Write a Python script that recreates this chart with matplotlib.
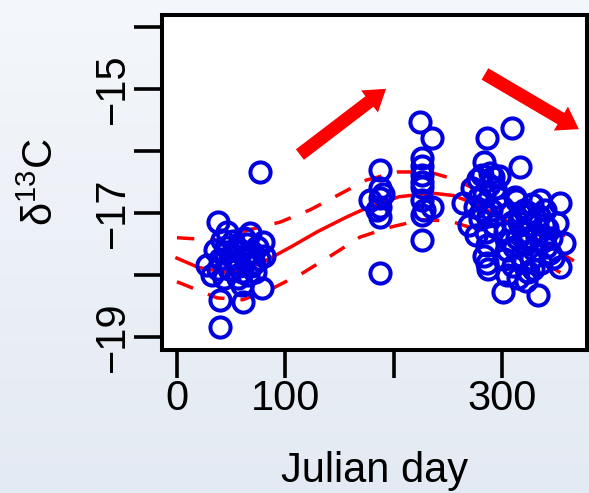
import numpy as np
import matplotlib
matplotlib.use("Agg")
import matplotlib.pyplot as plt

plt.rcParams['font.family'] = ['Liberation Sans', 'DejaVu Sans']
plt.rcParams['mathtext.default'] = 'regular'

# ---- data ----
days_winter = [37.9, 39.7, 39.7, 61, 78.5, 27.7, 32.3, 67.4, 79.4, 60, 41.5, 76.6,
               35, 40, 45, 48, 50, 43, 52, 55, 58, 60, 63, 65, 68, 70, 72, 74, 76, 80,
               38, 46, 56, 66, 53, 62, 44, 57, 71]
d13c_winter = [-17.15, -18.84, -18.40, -18.44, -18.21, -17.84, -18.0, -17.32, -17.47, -18.16, -17.44, -16.34,
               -17.6, -17.75, -17.55, -17.9, -17.7, -18.05, -17.45, -17.8, -17.6, -17.95, -17.7, -17.5,
               -17.85, -17.65, -17.95, -17.55, -17.75, -17.7, -17.9, -17.3, -18.05, -18.0, -17.6, -17.4,
               -17.65, -17.85, -17.8]

days_summer = [187, 187, 187, 178, 187, 187, 187, 185, 190,
               224, 235, 226, 226, 226, 226, 226, 235, 226, 226, 228, 226]
d13c_summer = [-16.31, -16.6, -16.76, -16.79, -16.9, -17.06, -17.97, -16.95, -16.7,
               -15.53, -15.79, -16.11, -16.24, -16.39, -16.58, -16.79, -16.9, -17.03, -17.44, -16.95, -16.5]

days_autumn = [309, 286, 283, 317, 282, 292, 264, 286, 286, 283, 287,
               272, 275, 278, 280, 283, 285, 288, 290, 293, 295, 297, 270, 276, 282, 289, 294, 287,
               354, 351, 357, 354, 301, 333, 347,
               300, 303, 305, 307, 310, 312, 314, 316, 318, 320, 322, 324, 326, 328, 330, 332, 334,
               336, 338, 340, 342, 344, 305, 315, 325, 335, 309, 319, 329, 339, 313, 345, 302, 322,
               311, 321, 331, 341, 317, 327, 307, 279]
d13c_autumn = [-15.63, -15.79, -16.18, -16.26, -16.39, -16.42, -16.84, -17.52, -17.81, -17.7, -17.9,
               -16.6, -16.9, -16.45, -17.1, -16.7, -17.3, -16.55, -16.95, -17.2, -16.75, -16.4, -17.2,
               -17.35, -16.95, -16.35, -16.6, -17.05,
               -16.84, -17.16, -17.48, -17.87, -18.27, -18.32, -17.73,
               -16.9, -17.3, -17.6, -17.0, -17.85, -16.75, -17.4, -17.15, -17.7, -16.95, -17.5, -17.95,
               -17.2, -16.85, -17.6, -17.35, -17.05, -17.8, -17.45, -16.95, -17.25, -17.65, -18.0, -18.05,
               -17.0, -16.8, -17.15, -17.3, -17.9, -17.2, -16.8, -17.4, -17.75, -18.1,
               -17.55, -17.4, -17.1, -17.55, -17.0, -17.75, -17.45, -16.75]

fit_day = [0, 20, 45, 65, 83, 105, 130, 155, 175, 205, 235, 255, 275, 300, 325, 345, 365]
fit_mid = [-17.73, -17.88, -17.96, -17.9, -17.76, -17.55, -17.3, -17.08, -16.92, -16.74, -16.68,
           -16.72, -16.85, -17.08, -17.35, -17.55, -17.76]

upper_day = [0, 37, 67, 95, 123, 149, 175, 204, 233, 258, 286, 314, 341, 365]
upper_val = [-17.40, -17.44, -17.27, -17.15, -16.95, -16.71, -16.47, -16.34, -16.34, -16.47,
             -16.71, -17.05, -17.30, -17.39]

lower_day = [0, 37, 61, 89, 116, 143, 169, 197, 226, 252, 277, 307, 332, 365]
lower_val = [-18.11, -18.37, -18.40, -18.21, -17.97, -17.68, -17.39, -17.23, -17.11, -17.13,
             -17.27, -17.48, -17.73, -18.08]

arrow_tails = [(113.5, -16.06), (284.3, -14.76)]
arrow_tips = [(193.0, -15.0), (371.0, -15.65)]

x_ticks = [0, 100, 200, 300]
x_ticklabels = ['0', '100', '', '300']
y_ticks = [-19, -18, -17, -16, -15, -14]
y_ticklabels = ['\u221219', '', '\u221217', '', '\u221215', '']

# ---- figure ----
W, H = 589, 493
fig = plt.figure(figsize=(W / 100, H / 100), dpi=100)

bg = fig.add_axes([0, 0, 1, 1], zorder=-10)
top = np.array([0xf4, 0xf7, 0xfb]) / 255
bot = np.array([0xe4, 0xea, 0xf3]) / 255
t = np.linspace(0, 1, 256)[:, None, None]
grad = (1 - t) * top + t * bot
grad = np.repeat(grad, 2, axis=1)
bg.imshow(grad, aspect='auto', extent=[0, 1, 0, 1])
bg.set_axis_off()

ax = fig.add_axes([162 / W, 1 - 350 / H, (587 - 162) / W, (350 - 15) / H])
ax.set_facecolor('white')

mk = dict(ls='none', marker='o', ms=14.5, mfc='none', mec='#0000e0', mew=2.9)
ax.plot(days_winter, d13c_winter, **mk, zorder=3)
ax.plot(days_summer, d13c_summer, **mk, zorder=3)
ax.plot(days_autumn, d13c_autumn, **mk, zorder=3)

lw = 2.5
ax.plot(fit_day, fit_mid, color='red', lw=lw, zorder=2)
ax.plot(upper_day, upper_val, color='red', lw=lw, ls=(0, (5.0, 4.6)), zorder=2)
ax.plot(lower_day, lower_val, color='red', lw=lw, ls=(0, (5.0, 4.6)), zorder=2)

for (tx, ty), (hx, hy) in zip(arrow_tails, arrow_tips):
    ax.annotate('', xy=(hx, hy), xytext=(tx, ty),
                arrowprops=dict(arrowstyle='simple,head_length=1.5,head_width=2.0,tail_width=0.95',
                                mutation_scale=10, color='red', shrinkA=0, shrinkB=0, lw=0),
                annotation_clip=False, zorder=4)

ax.set_xlim(-13.8, 378.5)
ax.set_ylim(-19.21, -13.81)
ax.set_xticks(x_ticks)
ax.set_xticklabels(x_ticklabels)
ax.set_yticks(y_ticks)
ax.set_yticklabels(y_ticklabels, rotation=90, va='center')
ax.tick_params(direction='out', length=20, width=2.6, labelsize=30, pad=1, color='black')
for s in ax.spines.values():
    s.set_linewidth(2.9)

fig.text(42 / W, 1 - 182 / H, '\u03b4$^{13}$C', rotation=90, ha='center', va='center', fontsize=30)
fig.text(374.5 / W, 1 - 482 / H, 'Julian day', ha='center', va='baseline', fontsize=30)

fig.savefig('out.png', dpi=100)
